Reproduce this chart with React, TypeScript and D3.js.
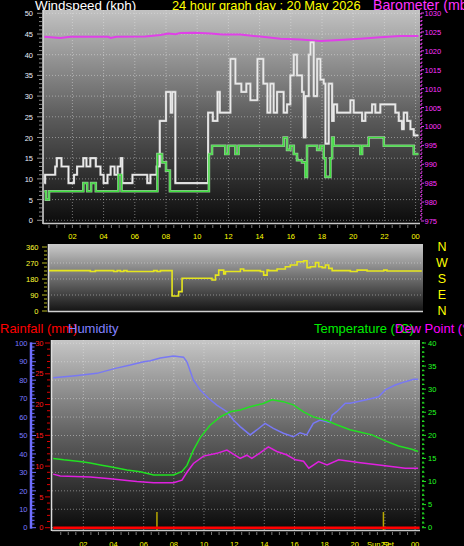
import React from "react";
import * as d3 from "d3";

// ---------- titles & tick labels ----------
const titleWind = "Windspeed (kph)";
const titleDate = "24 hour graph day : 20 May 2026";
const titleBaro = "Barometer (mb)";
const titleRain = "Rainfall (mm)";
const titleHum = "Humidity";
const titleTemp = "Temperature (°C)";
const titleDew = "Dew Point (°C)";

const hourTicks = [2, 4, 6, 8, 10, 12, 14, 16, 18, 20, 22, 24];
const hourTickLabels = ["02", "04", "06", "08", "10", "12", "14", "16", "18", "20", "22", "00"];
const windTicks = [0, 5, 10, 15, 20, 25, 30, 35, 40, 45, 50];
const baroTicks = [975, 980, 985, 990, 995, 1000, 1005, 1010, 1015, 1020, 1025, 1030];
const dirTicks = [0, 90, 180, 270, 360];
const compassLabels = ["N", "E", "S", "W", "N"];
const humTicks = [0, 10, 20, 30, 40, 50, 60, 70, 80, 90, 100];
const rainTicks = [0, 5, 10, 15, 20, 25, 30];
const tempTicks = [0, 5, 10, 15, 20, 25, 30, 35, 40];

// ---------- series: [hour, value] ----------
const windGust: [number, number][] = [
  [0.2, 9], [0.25, 11], [0.9, 13], [1.0, 15], [1.3, 13], [1.75, 9], [2.1, 11], [2.3, 13], [2.7, 15], [2.9, 13],
  [3.15, 15], [3.5, 13], [3.8, 11], [4.0, 9], [4.25, 11], [4.45, 13], [4.7, 11], [4.9, 13], [5.1, 15], [5.2, 9],
  [5.85, 11], [6.8, 9], [7.0, 11], [7.4, 13], [7.6, 24], [8.0, 31], [8.3, 26], [8.4, 31], [8.6, 9], [10.7, 26],
  [11.0, 24], [11.3, 31], [11.45, 26], [12.13, 39], [12.45, 33], [12.83, 31], [13.15, 33], [13.41, 29], [13.86, 39],
  [14.24, 33], [14.5, 26], [14.69, 33], [14.9, 26], [15.12, 31], [15.54, 26], [15.76, 28], [15.97, 35], [16.19, 40],
  [16.4, 35], [16.72, 31], [16.83, 20], [16.94, 30], [17.15, 40], [17.26, 43], [17.47, 30], [17.69, 39], [17.9, 34],
  [18.11, 33], [18.22, 18.5], [18.43, 33], [18.65, 24], [18.75, 28], [18.97, 26], [19.82, 29], [20.03, 26],
  [20.57, 24], [20.78, 26], [21.21, 28], [21.42, 26], [21.74, 28], [22.7, 26], [22.92, 24], [23.13, 22], [23.24, 26],
  [23.46, 24], [23.67, 22], [23.88, 20.5], [24.18, 20.5],
];

const windAvg: [number, number][] = [
  [0.2, 7], [0.3, 5], [0.5, 7], [2.7, 9], [2.95, 7], [3.2, 9], [3.5, 7], [4.95, 11], [5.15, 7], [7.45, 16],
  [7.75, 14], [8.0, 12], [8.25, 7], [10.75, 16], [10.95, 18], [11.8, 16], [12.0, 18], [12.45, 16], [12.65, 18],
  [15.54, 20], [15.76, 17], [15.97, 18], [16.19, 16], [16.4, 14.5], [16.72, 14], [16.94, 10.5], [17.04, 18],
  [17.69, 17], [17.9, 18], [18.11, 15], [18.22, 10.5], [18.54, 15], [18.65, 20], [18.75, 18], [20.46, 16],
  [20.57, 18], [20.99, 20], [21.96, 18], [23.88, 16], [24.18, 16],
];

const barometer: [number, number][] = [
  [0.2, 1023.7], [1.23, 1023.4], [1.87, 1023.7], [4.3, 1023.7], [4.44, 1023.4], [4.82, 1023.7], [6.68, 1023.8],
  [7.64, 1024.2], [8.15, 1024.6], [8.6, 1024.4], [8.92, 1024.7], [9.88, 1024.8], [10.85, 1024.6], [11.6, 1024.3],
  [12.77, 1024.3], [14.18, 1023.7], [15.33, 1023.2], [16.6, 1023.0], [17.9, 1022.6], [18.86, 1022.8],
  [20.46, 1023.2], [21.74, 1023.6], [23.0, 1023.9], [24.18, 1023.9],
];

const windDir: [number, number][] = [
  [0.5, 227], [3.15, 222], [3.47, 227], [4.65, 222], [4.87, 227], [5.08, 222], [5.29, 227], [5.5, 222],
  [7.21, 227], [7.43, 222], [7.64, 227], [8.39, 84], [8.81, 109], [9.03, 184], [10.95, 174], [11.17, 202],
  [11.38, 230], [11.7, 208], [11.81, 222], [12.77, 236], [12.98, 227], [14.05, 222], [14.26, 202], [14.48, 230],
  [14.58, 227], [15.12, 236], [15.65, 249], [15.97, 259], [16.4, 277], [16.83, 283], [17.04, 244], [17.26, 249],
  [17.58, 272], [17.79, 249], [18.01, 244], [18.22, 259], [18.43, 240], [18.65, 227], [19.82, 222], [20.25, 230],
  [20.89, 225], [21.96, 230], [22.17, 225], [24.4, 225],
];

const humidity: [number, number][] = [
  [0.0, 81.3], [1.47, 82.4], [2.9, 83.7], [4.12, 86.4], [5.11, 88.2], [6.0, 90], [6.44, 90.5], [7.1, 92],
  [7.98, 93.1], [8.64, 92.5], [8.87, 90], [9.3, 80], [9.75, 74.6], [10.3, 70.2], [10.85, 66.5], [11.52, 62.9],
  [11.95, 58.4], [12.4, 54.8], [13.06, 50.3], [13.5, 53], [14.05, 56.6], [14.6, 53.9], [15.26, 51.2],
  [15.93, 49.3], [16.37, 51.5], [16.81, 50.3], [17.25, 56.6], [17.7, 58.4], [18.36, 57], [18.49, 61],
  [18.8, 62.9], [19.37, 67.5], [19.68, 67.5], [20.7, 69.3], [21.58, 71], [22.02, 74.7], [22.68, 77.4],
  [23.35, 79.2], [23.9, 80.5], [24.2, 80.5],
];

const temperature: [number, number][] = [
  [0, 15.0], [0.7, 14.7], [1.91, 14.3], [2.46, 14.0], [3.13, 13.6], [3.79, 13.2], [4.89, 12.5], [5.77, 12.1],
  [6.66, 11.4], [7.98, 11.4], [8.54, 12.2], [8.87, 13.5], [9.3, 16.8], [9.75, 19.5], [10.4, 22.2], [11.08, 24],
  [11.74, 25.1], [12.4, 25.5], [13.06, 26.2], [13.94, 26.9], [14.5, 27.7], [15.26, 27.3], [15.93, 26.6],
  [16.6, 25.1], [17.25, 24], [18.13, 23.2], [18.8, 22.3], [19.68, 21.2], [20.25, 20.8], [21.14, 20.1],
  [22.02, 18.8], [22.9, 17.7], [23.79, 17.0], [24.2, 16.5],
];

const dewPoint: [number, number][] = [
  [0, 11.6], [0.47, 11.2], [2.46, 11.0], [3.79, 10.6], [4.89, 10.2], [5.55, 10.0], [6.66, 9.75], [7.98, 9.75],
  [8.54, 10.3], [8.87, 12.0], [9.3, 13.9], [9.97, 15.5], [10.85, 16.1], [11.52, 16.8], [11.87, 16.1],
  [12.4, 15.0], [12.84, 15.7], [13.17, 15.0], [13.72, 16.2], [14.27, 17.5], [14.83, 16.5], [15.48, 15.8],
  [16.06, 14.7], [16.6, 14.4], [16.95, 12.9], [17.6, 14.3], [18.16, 13.6], [18.93, 14.7], [20.25, 14.1],
  [22.02, 13.4], [23.35, 12.9], [24.2, 12.9],
];

const rainfall: [number, number][] = [[0, 0], [24.3, 0]];

const sunMarkHours = [6.88, 21.9];
const sunSetLabel = "Sun Set";

const FONT = "'Liberation Sans', Arial, Helvetica, sans-serif";
const GRID = "rgba(235,235,235,0.45)";

export default function App() {
  // top panel
  const top = { x: 43, y: 10, w: 377, h: 213 };
  const xTop = d3.scaleLinear().domain([0, 24]).range([41.2, 415.6]);
  const yWind = d3.scaleLinear().domain([0, 50]).range([220.3, 13.3]);
  const yBaro = d3.scaleLinear().domain([975, 1030]).range([221, 13]);
  // direction panel
  const dir = { x: 48, y: 244, w: 375, h: 68 };
  const yDir = d3.scaleLinear().domain([0, 360]).range([311, 247]);
  // bottom panel
  const bot = { x: 52, y: 340, w: 368, h: 190 };
  const xBot = d3.scaleLinear().domain([0, 24]).range([53.2, 415.1]);
  const yHum = d3.scaleLinear().domain([0, 100]).range([527.7, 343.3]);
  const yRain = d3.scaleLinear().domain([0, 30]).range([527.7, 343]);
  const yTemp = d3.scaleLinear().domain([0, 40]).range([527.7, 343]);

  const mk = (x: d3.ScaleLinear<number, number>, y: d3.ScaleLinear<number, number>, step: boolean) => {
    const l = d3.line<[number, number]>().x((d) => x(d[0])).y((d) => y(d[1]));
    if (step) l.curve(d3.curveStepAfter);
    return l;
  };

  const halfHours = d3.range(0.5, 24.01, 0.5);
  const windMinor = d3.range(0, 50.01, 1);
  const baroMinor = d3.range(975, 1030.01, 1);
  const dirMinor = d3.range(0, 360.01, 22.5);
  const rainMinor = d3.range(0, 30.01, 1);
  const humMinor = d3.range(0, 100.01, 2);
  const tempMinor = d3.range(0, 40.01, 1);

  return (
    <div style={{ position: "absolute", left: 0, top: 0 }}>
      <svg width={464} height={546} style={{ display: "block", background: "#000" }} fontFamily={FONT}>
        <defs>
          <linearGradient id="gTop" x1="0" y1="0" x2="0" y2="1">
            <stop offset="0" stopColor="#c2c2c2" />
            <stop offset="0.5" stopColor="#5c5c5c" />
            <stop offset="1" stopColor="#0c0c0c" />
          </linearGradient>
          <linearGradient id="gDir" x1="0" y1="0" x2="0" y2="1">
            <stop offset="0" stopColor="#cacaca" />
            <stop offset="1" stopColor="#121212" />
          </linearGradient>
          <linearGradient id="gBot" x1="0" y1="0" x2="0" y2="1">
            <stop offset="0" stopColor="#c6c6c6" />
            <stop offset="0.5" stopColor="#606060" />
            <stop offset="1" stopColor="#0a0a0a" />
          </linearGradient>
          <clipPath id="cTop"><rect x={top.x} y={top.y} width={top.w} height={top.h} /></clipPath>
          <clipPath id="cDir"><rect x={dir.x} y={dir.y} width={dir.w} height={dir.h} /></clipPath>
          <clipPath id="cBot"><rect x={bot.x} y={bot.y} width={bot.w} height={bot.h} /></clipPath>
        </defs>

        <rect x={0} y={0} width={464} height={546} fill="#000" />

        {/* ================= TOP PANEL ================= */}
        <text x={35} y={9.5} fill="#ffffff" fontSize={13.4}>{titleWind}</text>
        <text x={172} y={9.5} fill="#ffff00" fontSize={12.8}>{titleDate}</text>
        <text x={373} y={9.5} fill="#ff33ff" fontSize={14.2}>{titleBaro}</text>

        <rect x={top.x} y={top.y} width={top.w} height={top.h} fill="url(#gTop)" />
        {windTicks.map((t) => (
          <line key={"wg" + t} x1={top.x} x2={top.x + top.w} y1={yWind(t)} y2={yWind(t)} stroke={GRID} strokeDasharray="1,2" />
        ))}
        {hourTicks.map((h) => (
          <line key={"hg" + h} x1={xTop(h)} x2={xTop(h)} y1={top.y} y2={top.y + top.h} stroke={GRID} strokeDasharray="1,2" />
        ))}
        <line x1={top.x} x2={top.x} y1={top.y} y2={top.y + top.h + 1} stroke="#dcdcdc" strokeWidth={1.5} />
        <line x1={top.x} x2={top.x + top.w} y1={top.y + top.h + 0.5} y2={top.y + top.h + 0.5} stroke="#c8c8c8" strokeWidth={1.5} />

        <g clipPath="url(#cTop)" fill="none" strokeLinejoin="miter">
          <path d={mk(xTop, yBaro, false)(barometer) || ""} stroke="#e040e8" strokeWidth={2} />
          <path d={mk(xTop, yWind, true)(windGust) || ""} stroke="#cfcfcf" strokeWidth={2.2} />
          <path d={mk(xTop, yWind, true)(windGust) || ""} stroke="#f2f2f2" strokeWidth={0.9} />
          <path d={mk(xTop, yWind, true)(windAvg) || ""} stroke="#a8e0a8" strokeWidth={2.6} opacity={0.85} />
          <path d={mk(xTop, yWind, true)(windAvg) || ""} stroke="#3ee03e" strokeWidth={1.2} />
        </g>

        {/* left wind axis */}
        {windMinor.map((t) => (
          <line key={"wm" + t} x1={t % 5 === 0 ? 37 : 39} x2={42} y1={yWind(t)} y2={yWind(t)} stroke="#8a8a8a" strokeWidth={1} />
        ))}
        {windTicks.map((t) => (
          <text key={"wl" + t} x={33} y={yWind(t) + 3} fill="#e8eefc" fontSize={7.5} textAnchor="end">{t}</text>
        ))}

        {/* right baro axis */}
        <line x1={421} x2={421} y1={13} y2={222} stroke="#e040e8" strokeWidth={1.5} strokeDasharray="1.5,2.3" />
        {baroMinor.map((t) => (
          <line key={"bm" + t} x1={421} x2={t % 5 === 0 ? 424 : 422.5} y1={yBaro(t)} y2={yBaro(t)} stroke="#e040e8" strokeWidth={1} />
        ))}
        {baroTicks.map((t) => (
          <text key={"bl" + t} x={424.5} y={yBaro(t) + 3} fill="#ff33ff" fontSize={7.5}>{t}</text>
        ))}

        {/* time axis between panels */}
        {halfHours.map((h) => (
          <line key={"th" + h} x1={xTop(h)} x2={xTop(h)} y1={225} y2={228} stroke="#777" strokeWidth={1} />
        ))}
        {hourTicks.map((h, i) => (
          <text key={"tl" + h} x={xTop(h)} y={238.7} fill="#ffff00" fontSize={7.5} textAnchor="middle">{hourTickLabels[i]}</text>
        ))}

        {/* ================= DIRECTION PANEL ================= */}
        <rect x={dir.x} y={dir.y} width={dir.w} height={dir.h} fill="url(#gDir)" />
        {dirTicks.slice(1, 4).map((t) => (
          <line key={"dg" + t} x1={dir.x} x2={dir.x + dir.w} y1={yDir(t)} y2={yDir(t)} stroke={GRID} strokeDasharray="1,2" />
        ))}
        <line x1={dir.x + 0.5} x2={dir.x + 0.5} y1={dir.y} y2={dir.y + dir.h} stroke="#dcdcdc" strokeWidth={1.5} />
        <line x1={dir.x} x2={dir.x + dir.w} y1={yDir(0) + 0.5} y2={yDir(0) + 0.5} stroke="#d0d0d0" strokeWidth={1.5} />
        <g clipPath="url(#cDir)" fill="none">
          <path d={mk(xTop, yDir, true)(windDir) || ""} stroke="#e6e61e" strokeWidth={1.6} />
        </g>
        {dirMinor.map((t) => (
          <line key={"dm" + t} x1={t % 90 === 0 ? 42 : 44} x2={47} y1={yDir(t)} y2={yDir(t)} stroke="#b8b820" strokeWidth={1} />
        ))}
        {dirTicks.map((t, i) => (
          <g key={"dl" + t}>
            <text x={38.5} y={yDir(t) + 2.7} fill="#ffff33" fontSize={7.5} textAnchor="end">{t}</text>
            <text x={442} y={yDir(t) + 4.3} fill="#ffff00" fontSize={12.5} textAnchor="middle">{compassLabels[i]}</text>
          </g>
        ))}

        {/* ================= BOTTOM PANEL ================= */}
        <text x={0} y={332.7} fill="#ff0000" fontSize={13}>{titleRain}</text>
        <text x={68} y={332.7} fill="#8080ff" fontSize={13}>{titleHum}</text>
        <text x={314} y={332.7} fill="#00ee00" fontSize={13}>{titleTemp}</text>
        <text x={395} y={332.7} fill="#ff00ff" fontSize={13}>{titleDew}</text>

        <rect x={bot.x} y={bot.y} width={bot.w} height={bot.h} fill="url(#gBot)" />
        {humTicks.map((t) => (
          <line key={"hgr" + t} x1={bot.x} x2={bot.x + bot.w} y1={yHum(t)} y2={yHum(t)} stroke={GRID} strokeDasharray="1,2" />
        ))}
        {hourTicks.map((h) => (
          <line key={"bvg" + h} x1={xBot(h)} x2={xBot(h)} y1={bot.y} y2={bot.y + bot.h} stroke={GRID} strokeDasharray="1,2" />
        ))}
        <line x1={bot.x - 0.5} x2={bot.x - 0.5} y1={bot.y} y2={bot.y + bot.h + 1} stroke="#dcdcdc" strokeWidth={1.5} />
        <line x1={bot.x} x2={bot.x + bot.w} y1={bot.y + bot.h + 0.5} y2={bot.y + bot.h + 0.5} stroke="#c8c8c8" strokeWidth={1.5} />

        <g clipPath="url(#cBot)" fill="none">
          <path d={mk(xBot, yHum, false)(humidity) || ""} stroke="#7878f4" strokeWidth={1.5} />
          <path d={mk(xBot, yTemp, false)(temperature) || ""} stroke="#22e022" strokeWidth={1.5} />
          <path d={mk(xBot, yTemp, false)(dewPoint) || ""} stroke="#e020e0" strokeWidth={1.5} />
          {sunMarkHours.map((h) => (
            <line key={"sun" + h} x1={xBot(h)} x2={xBot(h)} y1={512} y2={bot.y + bot.h} stroke="#b8a800" strokeWidth={1.5} />
          ))}
          <path d={mk(xBot, yRain, false)(rainfall) || ""} stroke="#ff0000" strokeWidth={2.5} />
        </g>

        {/* humidity axis */}
        <line x1={31} x2={31} y1={yHum(100) - 1} y2={yHum(0) + 1} stroke="#6e6eff" strokeWidth={2.5} />
        {humMinor.map((t) => (
          <line key={"hm" + t} x1={32} x2={t % 10 === 0 ? 36 : 34.5} y1={yHum(t)} y2={yHum(t)} stroke="#6e6eff" strokeWidth={1} />
        ))}
        {humTicks.map((t) => (
          <text key={"hl" + t} x={27.5} y={yHum(t) + 2.7} fill="#7a7aff" fontSize={7.5} textAnchor="end">{t}</text>
        ))}
        {/* rain axis */}
        {rainMinor.map((t) => (
          <line key={"rm" + t} x1={t % 5 === 0 ? 45 : 47} x2={50} y1={yRain(t)} y2={yRain(t)} stroke="#dd0000" strokeWidth={1} />
        ))}
        {rainTicks.map((t) => (
          <text key={"rl" + t} x={43.5} y={yRain(t) + 2.7} fill="#ff1a1a" fontSize={7.5} textAnchor="end">{t}</text>
        ))}
        {/* temperature axis */}
        <line x1={423} x2={423} y1={yTemp(40) - 1} y2={yTemp(0) + 1} stroke="#22dd22" strokeWidth={1.5} strokeDasharray="1.5,3.1" />
        {tempMinor.map((t) => (
          <line key={"tm" + t} x1={422} x2={t % 5 === 0 ? 426 : 424.5} y1={yTemp(t)} y2={yTemp(t)} stroke="#22dd22" strokeWidth={1} />
        ))}
        {tempTicks.map((t) => (
          <text key={"tpl" + t} x={428} y={yTemp(t) + 2.7} fill="#22ff22" fontSize={7.5}>{t}</text>
        ))}

        {/* bottom time axis */}
        {halfHours.map((h) => (
          <line key={"bth" + h} x1={xBot(h)} x2={xBot(h)} y1={532} y2={535} stroke="#777" strokeWidth={1} />
        ))}
        {hourTicks.map((h, i) => (
          <text key={"btl" + h} x={xBot(h)} y={546.5} fill="#ffff00" fontSize={7.5} textAnchor="middle">{hourTickLabels[i]}</text>
        ))}
        <text x={xBot(sunMarkHours[1]) - 3} y={546.5} fill="#ffff00" fontSize={7.5} textAnchor="middle">{sunSetLabel}</text>
      </svg>
    </div>
  );
}
